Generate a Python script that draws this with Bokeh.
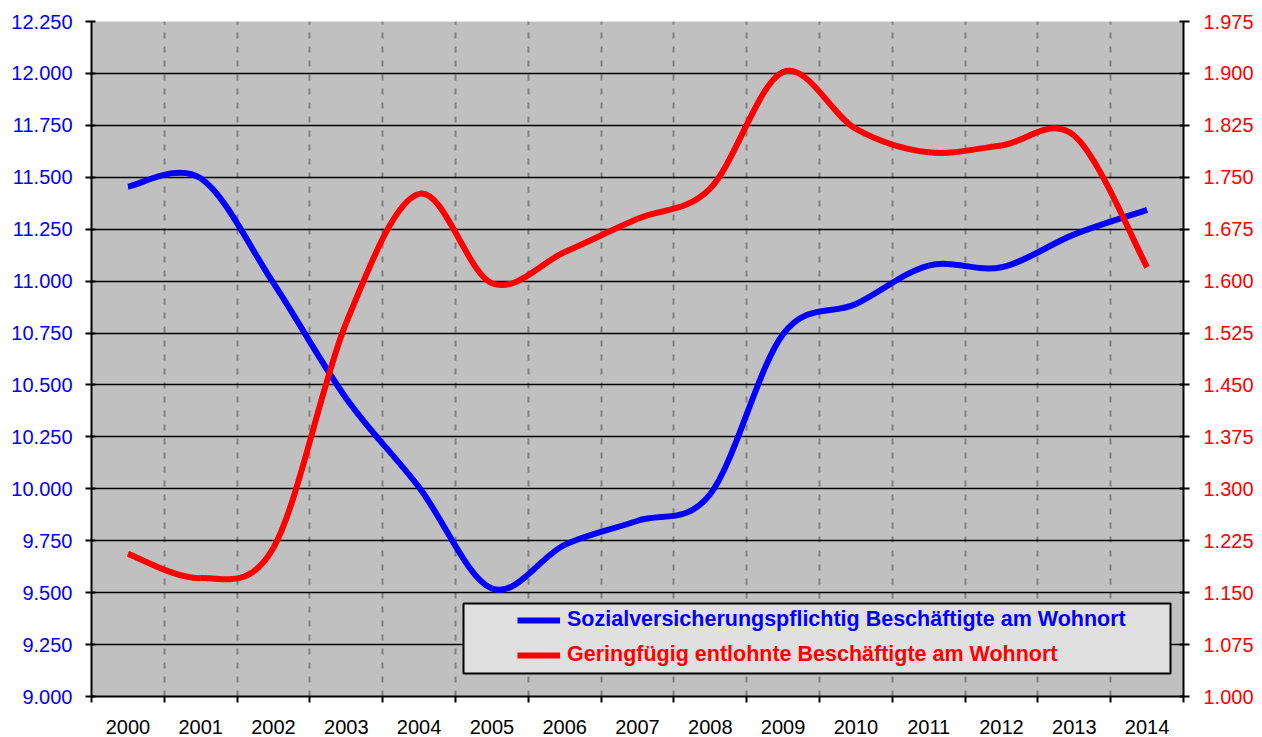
from bokeh.plotting import figure
from bokeh.models import (Range1d, LinearAxis, FixedTicker, Legend, LegendItem,
                          BoxAnnotation, ColumnDataSource)
from bokeh.embed import file_html
from bokeh.resources import INLINE

# ---------------- data ----------------
years = ["2000", "2001", "2002", "2003", "2004", "2005", "2006", "2007",
         "2008", "2009", "2010", "2011", "2012", "2013", "2014"]
sv_beschaeftigte = [11455, 11495, 10990, 10435, 10007, 9520, 9730, 9846,
                    9975, 10745, 10890, 11075, 11067, 11225, 11343]
geringfuegig = [1206, 1171, 1215, 1540, 1726, 1597, 1642, 1690,
                1734, 1902, 1820, 1786, 1796, 1810, 1620]

left_ticks = [9000, 9250, 9500, 9750, 10000, 10250, 10500, 10750,
              11000, 11250, 11500, 11750, 12000, 12250]
left_tick_labels = ["9.000", "9.250", "9.500", "9.750", "10.000", "10.250",
                    "10.500", "10.750", "11.000", "11.250", "11.500",
                    "11.750", "12.000", "12.250"]
right_ticks = [1000, 1075, 1150, 1225, 1300, 1375, 1450, 1525,
               1600, 1675, 1750, 1825, 1900, 1975]
right_tick_labels = ["1.000", "1.075", "1.150", "1.225", "1.300", "1.375",
                     "1.450", "1.525", "1.600", "1.675", "1.750", "1.825",
                     "1.900", "1.975"]

blue_label = "Sozialversicherungspflichtig Beschäftigte am Wohnort"
red_label = "Geringfügig entlohnte Beschäftigte am Wohnort"

FONT = "Liberation Sans"
BLUE = "#0000FF"
RED = "#FF0000"

# category positions
xs = list(range(len(years)))
boundaries = [i - 0.5 for i in range(len(years) + 1)]


def smooth_segments(x, y):
    """Bezier segments through the data points (Excel-style smoothed line)."""
    n = len(x)
    d = dict(x0=[], y0=[], x1=[], y1=[], cx0=[], cy0=[], cx1=[], cy1=[])
    for i in range(n - 1):
        ip = max(i - 1, 0)
        inn = min(i + 2, n - 1)
        d["x0"].append(x[i]); d["y0"].append(y[i])
        d["x1"].append(x[i + 1]); d["y1"].append(y[i + 1])
        d["cx0"].append(x[i] + (x[i + 1] - x[ip]) / 6.0)
        d["cy0"].append(y[i] + (y[i + 1] - y[ip]) / 6.0)
        d["cx1"].append(x[i + 1] - (x[inn] - x[i]) / 6.0)
        d["cy1"].append(y[i + 1] - (y[inn] - y[i]) / 6.0)
    return ColumnDataSource(d)


p = figure(width=1262, height=737, output_backend="svg", toolbar_location=None,
           x_range=Range1d(-0.5, len(years) - 0.5),
           y_range=Range1d(left_ticks[0], left_ticks[-1]),
           min_border_left=91, min_border_right=79,
           min_border_top=21, min_border_bottom=41)
p.extra_y_ranges = {"right": Range1d(right_ticks[0], right_ticks[-1])}

p.background_fill_color = "#C0C0C0"
p.border_fill_color = "white"
p.outline_line_color = None

# grids
p.ygrid.ticker = FixedTicker(ticks=left_ticks)
p.ygrid.grid_line_color = "black"
p.ygrid.grid_line_width = 1.5
p.xgrid.ticker = FixedTicker(ticks=boundaries[1:-1])
p.xgrid.grid_line_color = "#808080"
p.xgrid.grid_line_width = 2
p.xgrid.grid_line_dash = "6 8"

# bottom axis
xa = p.xaxis[0]
xa.ticker = FixedTicker(ticks=xs, minor_ticks=boundaries)
xa.major_label_overrides = {i: yr for i, yr in enumerate(years)}
xa.major_tick_out = 0
xa.major_tick_in = 0
xa.minor_tick_out = 6
xa.minor_tick_in = 0
xa.minor_tick_line_color = "black"
xa.minor_tick_line_width = 2
xa.axis_line_color = "black"
xa.axis_line_width = 2
xa.major_label_text_font = FONT
xa.major_label_text_font_size = "20px"
xa.major_label_text_color = "black"
xa.major_label_standoff = 17

# left axis
ya = p.yaxis[0]
ya.ticker = FixedTicker(ticks=left_ticks)
ya.major_label_overrides = dict(zip(left_ticks, left_tick_labels))
ya.minor_tick_out = 0
ya.minor_tick_in = 0
ya.major_tick_out = 6
ya.major_tick_in = 4
ya.major_tick_line_width = 2
ya.major_tick_line_color = "black"
ya.axis_line_color = "black"
ya.axis_line_width = 2
ya.major_label_text_font = FONT
ya.major_label_text_font_size = "20px"
ya.major_label_text_color = BLUE
ya.major_label_standoff = 13

# right axis
ra = LinearAxis(y_range_name="right", ticker=FixedTicker(ticks=right_ticks))
ra.major_label_overrides = dict(zip(right_ticks, right_tick_labels))
ra.minor_tick_out = 0
ra.minor_tick_in = 0
ra.major_tick_out = 6
ra.major_tick_in = 4
ra.major_tick_line_width = 2
ra.major_tick_line_color = "black"
ra.axis_line_color = "black"
ra.axis_line_width = 2
ra.major_label_text_font = FONT
ra.major_label_text_font_size = "20px"
ra.major_label_text_color = RED
ra.major_label_standoff = 14
p.add_layout(ra, "right")

# series
blue_r = p.bezier(x0="x0", y0="y0", x1="x1", y1="y1", cx0="cx0", cy0="cy0",
                  cx1="cx1", cy1="cy1", source=smooth_segments(xs, sv_beschaeftigte),
                  line_color=BLUE, line_width=6)
red_r = p.bezier(x0="x0", y0="y0", x1="x1", y1="y1", cx0="cx0", cy0="cy0",
                 cx1="cx1", cy1="cy1", source=smooth_segments(xs, geringfuegig),
                 line_color=RED, line_width=6, y_range_name="right")

# legend frame
box = BoxAnnotation(left=372, right=1079, top=93, bottom=23,
                    left_units="screen", right_units="screen",
                    top_units="screen", bottom_units="screen",
                    fill_color="#E0E0E0", fill_alpha=1.0,
                    line_color="black", line_width=2, line_alpha=1.0)
p.add_layout(box)


def make_legend(label, renderer, color, loc):
    lg = Legend(items=[LegendItem(label=label, renderers=[renderer])],
                location=loc, padding=0, margin=0, spacing=0,
                glyph_width=43, glyph_height=24, label_height=24,
                label_standoff=7, background_fill_alpha=0,
                border_line_color=None,
                label_text_font=FONT, label_text_font_style="bold",
                label_text_font_size="21.5px", label_text_color=color)
    return lg


p.add_layout(make_legend(blue_label, blue_r, BLUE, (426, 64)))
p.add_layout(make_legend(red_label, red_r, RED, (426, 29)))

open("out.html", "w").write(file_html(p, INLINE))
